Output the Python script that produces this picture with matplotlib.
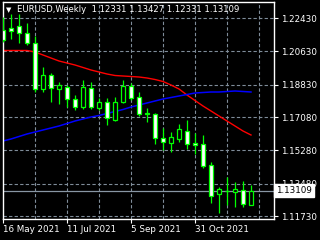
import matplotlib
matplotlib.use("Agg")
import matplotlib.pyplot as plt
import matplotlib.transforms as mtransforms
import numpy as np

# ===== Данные (EURUSD, Weekly) =====
opens = [1.21782, 1.21890, 1.21998, 1.21620, 1.21080, 1.18596, 1.19352, 1.18596,
         1.18704, 1.18056, 1.17624, 1.18650, 1.17570, 1.17894, 1.16922, 1.17894,
         1.18758, 1.18164, 1.17327, 1.17246, 1.15950, 1.15680, 1.15896, 1.16328,
         1.15680, 1.15626, 1.14492, 1.12926, 1.13088, 1.13034, 1.13142, 1.12331]
highs = [1.22484, 1.22646, 1.22646, 1.22160, 1.21458, 1.19784, 1.19460, 1.18974,
         1.18812, 1.18272, 1.19082, 1.18974, 1.18110, 1.18110, 1.18164, 1.19082,
         1.18920, 1.18434, 1.17570, 1.17300, 1.16490, 1.16274, 1.16706, 1.16922,
         1.16220, 1.16112, 1.14654, 1.13304, 1.13844, 1.13574, 1.13628, 1.13427]
lows = [1.21134, 1.21296, 1.21080, 1.20972, 1.18434, 1.18434, 1.17902, 1.17786,
        1.17624, 1.17462, 1.17543, 1.17516, 1.17462, 1.16652, 1.16868, 1.17840,
        1.17998, 1.17138, 1.16814, 1.15626, 1.15302, 1.15194, 1.15734, 1.15356,
        1.15086, 1.14330, 1.12440, 1.11900, 1.12332, 1.12224, 1.12224, 1.12331]
closes = [1.21242, 1.21728, 1.21620, 1.21080, 1.18596, 1.19352, 1.18650, 1.18812,
          1.18056, 1.17624, 1.18704, 1.17624, 1.17894, 1.17030, 1.17894, 1.18758,
          1.18110, 1.17246, 1.17273, 1.15950, 1.15734, 1.16004, 1.16436, 1.15626,
          1.15572, 1.14438, 1.12818, 1.13196, 1.13072, 1.13196, 1.12386, 1.13109]

ma_red = [1.20675, 1.20675, 1.20675, 1.20675, 1.20594, 1.20432, 1.20270, 1.20108,
          1.20000, 1.19892, 1.19757, 1.19622, 1.19514, 1.19406, 1.19325, 1.19298,
          1.19271, 1.19244, 1.19190, 1.19109, 1.19001, 1.18812, 1.18596, 1.18272,
          1.17975, 1.17678, 1.17408, 1.17138, 1.16868, 1.16598, 1.16328, 1.16112]
ma_blue = [1.15788, 1.15896, 1.16031, 1.16166, 1.16274, 1.16382, 1.16490, 1.16598,
           1.16733, 1.16868, 1.16976, 1.17084, 1.17165, 1.17273, 1.17381, 1.17489,
           1.17624, 1.17732, 1.17840, 1.17948, 1.18056, 1.18137, 1.18218, 1.18299,
           1.18380, 1.18407, 1.18434, 1.18434, 1.18461, 1.18488, 1.18461, 1.18434]

price_levels = [1.22430, 1.20630, 1.18830, 1.17080, 1.15280, 1.13480, 1.11730]
date_pos = [0, 8, 16, 24]
date_labels = ["16 May 2021", "11 Jul 2021", "5 Sep 2021", "31 Oct 2021"]
title = "EURUSD,Weekly  1.12331 1.13427 1.12331 1.13109"
last_price = 1.13109

# ===== График =====
W, H = 320, 240
fig = plt.figure(figsize=(W / 100, H / 100), dpi=100, facecolor="black")
ax = fig.add_axes([3 / W, 21 / H, 271 / W, 217 / H], facecolor="black")

grid_c = "#7f8c99"
for lv in price_levels:
    ax.axhline(lv, color=grid_c, lw=0.8, ls=(0, (3, 2)), zorder=1)
for xv in range(4, 34, 4):
    ax.axvline(xv, color=grid_c, lw=0.8, ls=(0, (3, 2)), zorder=1)

ax.axhline(last_price, color="#8896a4", lw=0.9, zorder=1.5)

idx = np.arange(len(opens))
ax.plot(idx, ma_red, color="#ff0000", lw=1.0, zorder=2)
ax.plot(idx, ma_blue, color="#0000ff", lw=1.1, zorder=2)

up_c = "#00ff00"
for i in idx:
    o, h, l, c = opens[i], highs[i], lows[i], closes[i]
    ax.vlines(i, l, h, color=up_c, lw=0.9, zorder=3)
    fc = "black" if c > o else "white"
    bottom = min(o, c)
    height = max(abs(c - o), 0.00005)
    ax.bar(i, height, bottom=bottom, width=0.6, color=fc, edgecolor=up_c, linewidth=0.9, zorder=4)

ax.set_xlim(0, 33.875)
ax.set_ylim(1.11576, 1.23294)

for s in ax.spines.values():
    s.set_color("white")
    s.set_linewidth(1.0)

ax.yaxis.tick_right()
ax.set_yticks(price_levels)
ax.set_yticklabels([f"{v:.5f}" for v in price_levels])
ax.tick_params(axis="y", colors="white", labelsize=6.3, length=3, width=0.8, pad=2)
ax.set_xticks(date_pos)
ax.set_xticklabels(date_labels, ha="left")
ax.tick_params(axis="x", colors="white", labelsize=6.3, length=3, width=0.8, pad=1.5)

# метка текущей цены
trans = mtransforms.blended_transform_factory(ax.transAxes, ax.transData)
ax.text(1.008, last_price, f"{last_price:.5f}", transform=trans, fontsize=6.3,
        color="black", va="center", ha="left",
        bbox=dict(boxstyle="square,pad=0.2", fc="white", ec="white"))

fig.text(6 / W, 1 - 10 / H, "\u25bc", color="white", fontsize=5, va="center", ha="left")
fig.text(17 / W, 1 - 10 / H, title, color="white", fontsize=6.1, va="center", ha="left")

fig.savefig("out.png", dpi=100, facecolor="black")
